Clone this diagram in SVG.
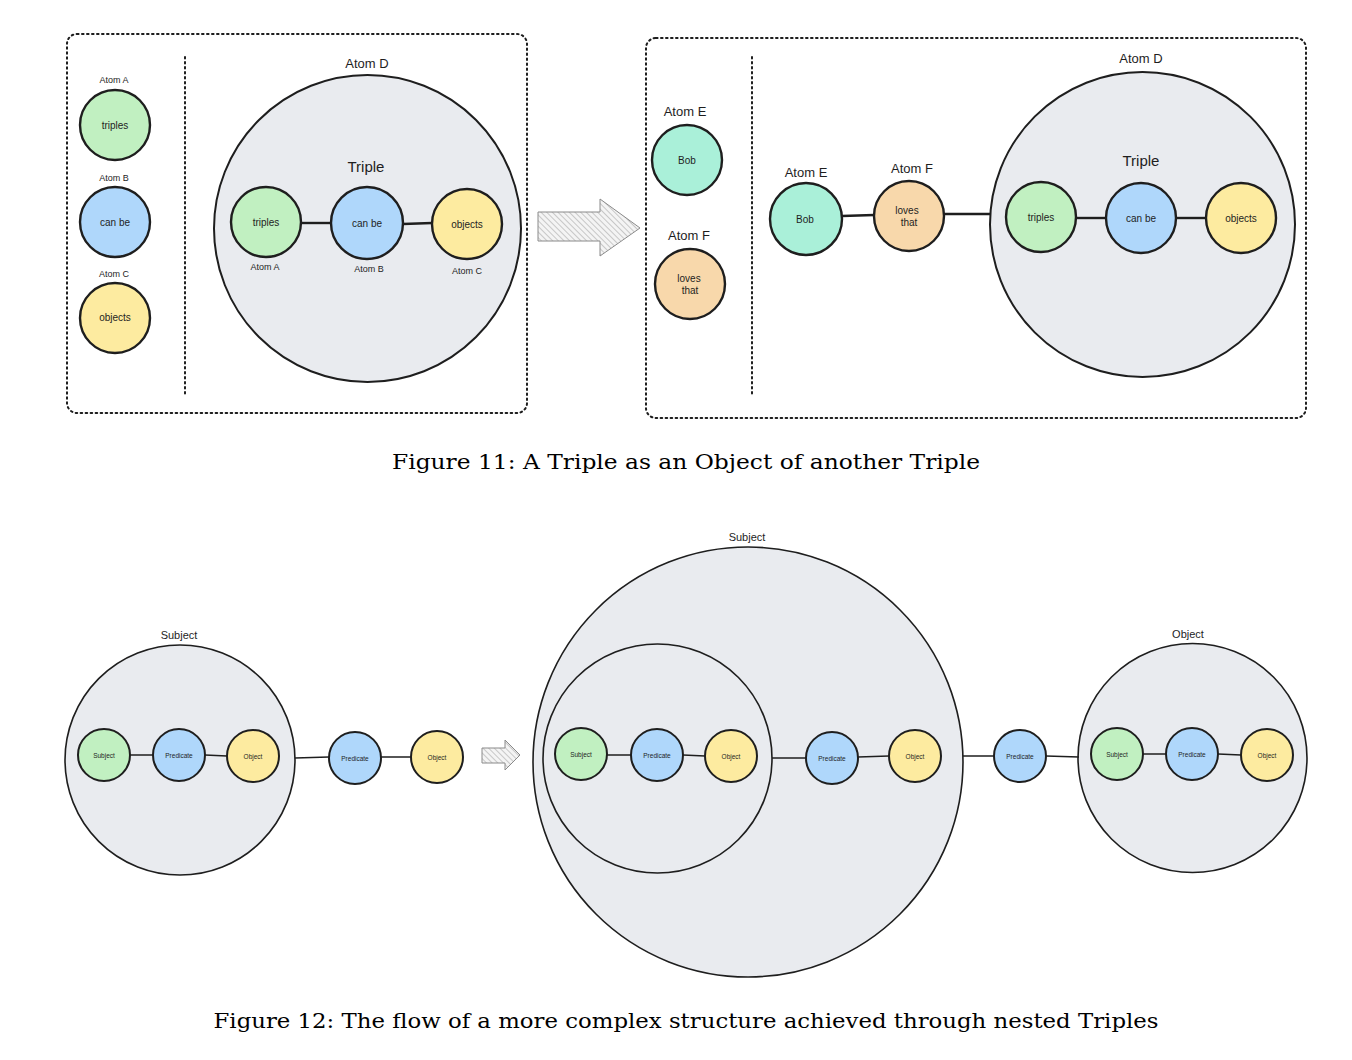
<svg xmlns="http://www.w3.org/2000/svg" width="1352" height="1060" viewBox="0 0 1352 1060">
<defs>
<pattern id="hatch" patternUnits="userSpaceOnUse" width="4" height="4" patternTransform="rotate(-45)">
<rect width="4" height="4" fill="#f4f4f4"/>
<line x1="0" y1="0" x2="0" y2="4" stroke="#9a9a9a" stroke-width="1"/>
</pattern>
</defs>
<style>
text{font-family:"Liberation Sans","DejaVu Sans",sans-serif;fill:#1e1e1e;text-anchor:middle;dominant-baseline:central}
.panel{fill:none;stroke:#1e1e1e;stroke-width:2;stroke-dasharray:1.6 3.4;stroke-linecap:round}
.big{fill:#e9ebef;stroke:#1e1e1e;stroke-width:2}
.big2{fill:#e9ebef;stroke:#1e1e1e;stroke-width:1.6}
.nb{stroke:#1e1e1e;stroke-width:2.4}
.ns{stroke:#1e1e1e;stroke-width:2}
.g{fill:#c1f0c1}.b{fill:#afd7fb}.y{fill:#fdeba0}.t{fill:#aaf0d9}.p{fill:#f8d8ab}
.ln{stroke:#1e1e1e;stroke-width:2.4;fill:none}
.ln2{stroke:#1e1e1e;stroke-width:1.5;fill:none}
.arrow{fill:url(#hatch);stroke:#8a8a8a;stroke-width:1}
.cap{font-family:"DejaVu Serif","Liberation Serif",serif;font-size:21px;fill:#000}
.s9{font-size:9px}.s10{font-size:10px}.s11{font-size:11px}.s13{font-size:13px}.s15{font-size:15px}.s7{font-size:6.5px}
</style>

<g id="fig11-left-panel">
<rect class="panel" x="67" y="34" width="460" height="379" rx="10"/>
<line class="panel" x1="185" y1="57" x2="185" y2="395"/>
</g>
<g id="atomD-left">
<text class="s13" x="367" y="63">Atom D</text>
<circle class="big" cx="367.5" cy="228.5" r="153.5"/>
<text class="s15" x="366" y="166">Triple</text>
</g>
<g id="fig11-right-panel">
<rect class="panel" x="646" y="38" width="660" height="380" rx="10"/>
<line class="panel" x1="752" y1="57" x2="752" y2="395"/>
</g>
<g id="atomD-right">
<text class="s13" x="1141" y="58">Atom D</text>
<circle class="big" cx="1142.5" cy="224.5" r="152.5"/>
<text class="s15" x="1141" y="160">Triple</text>
</g>
<g id="f12-subject">
<text class="s11" x="179" y="635">Subject</text>
<circle class="big2" cx="180" cy="760" r="115"/>
</g>
<g id="f12-subject-big">
<text class="s11" x="747" y="537">Subject</text>
<circle class="big2" cx="748" cy="762" r="215"/>
</g>
<g id="f12-inner">
<circle class="big2" cx="657.5" cy="758.5" r="114.5"/>
</g>
<g id="f12-object">
<text class="s11" x="1188" y="634">Object</text>
<circle class="big2" cx="1192.5" cy="758" r="114.5"/>
</g>

<g id="connectors">
<line class="ln" x1="301" y1="223" x2="331" y2="223"/>
<line class="ln" x1="403" y1="224" x2="432" y2="223"/>
<line class="ln" x1="842" y1="216" x2="874" y2="215"/>
<line class="ln" x1="944" y1="214" x2="990" y2="214"/>
<line class="ln" x1="1076" y1="218" x2="1106" y2="218"/>
<line class="ln" x1="1176" y1="218" x2="1206" y2="218"/>
<line class="ln2" x1="130" y1="755" x2="153" y2="755"/>
<line class="ln2" x1="205" y1="755" x2="227" y2="756"/>
<line class="ln2" x1="295" y1="758" x2="329" y2="757"/>
<line class="ln2" x1="381" y1="757" x2="411" y2="757"/>
<line class="ln2" x1="607" y1="755" x2="631" y2="755"/>
<line class="ln2" x1="683" y1="755" x2="705" y2="756"/>
<line class="ln2" x1="772" y1="758" x2="806" y2="758"/>
<line class="ln2" x1="858" y1="757" x2="889" y2="756"/>
<line class="ln2" x1="963" y1="756" x2="994" y2="756"/>
<line class="ln2" x1="1046" y1="756" x2="1079" y2="757"/>
<line class="ln2" x1="1143" y1="754" x2="1166" y2="754"/>
<line class="ln2" x1="1218" y1="754" x2="1241" y2="755"/>
</g>

<g id="atomA"><text class="s9" x="114" y="80">Atom A</text><circle class="nb g" cx="115" cy="125" r="35"/><text class="s10" x="115" y="125">triples</text></g>
<g id="atomB"><text class="s9" x="114" y="178">Atom B</text><circle class="nb b" cx="115" cy="222" r="35"/><text class="s10" x="115" y="222">can be</text></g>
<g id="atomC"><text class="s9" x="114" y="274">Atom C</text><circle class="nb y" cx="115" cy="318" r="35"/><text class="s10" x="115" y="317">objects</text></g>
<g id="tripleA-in"><circle class="nb g" cx="266" cy="222" r="35"/><text class="s10" x="266" y="222">triples</text><text class="s9" x="265" y="267">Atom A</text></g>
<g id="tripleB-in"><circle class="nb b" cx="367" cy="223" r="36"/><text class="s10" x="367" y="223">can be</text><text class="s9" x="369" y="269">Atom B</text></g>
<g id="tripleC-in"><circle class="nb y" cx="467" cy="224" r="35"/><text class="s10" x="467" y="224">objects</text><text class="s9" x="467" y="271">Atom C</text></g>

<g id="arrow-top">
<path class="arrow" d="M538,212 L600,212 L600,199 L640,228 L600,256 L600,241 L538,241 Z"/>
</g>

<g id="atomE"><text class="s13" x="685" y="111">Atom E</text><circle class="nb t" cx="687" cy="160" r="35"/><text class="s10" x="687" y="160">Bob</text></g>
<g id="atomF"><text class="s13" x="689" y="235">Atom F</text><circle class="nb p" cx="690" cy="284" r="35"/><text class="s10" x="689" y="278">loves</text><text class="s10" x="690" y="290">that</text></g>
<g id="atomE-in"><text class="s13" x="806" y="172">Atom E</text><circle class="nb t" cx="806" cy="219" r="36"/><text class="s10" x="805" y="219">Bob</text></g>
<g id="atomF-in"><text class="s13" x="912" y="168">Atom F</text><circle class="nb p" cx="909" cy="216" r="35"/><text class="s10" x="907" y="210">loves</text><text class="s10" x="909" y="222">that</text></g>
<g id="r-triples"><circle class="nb g" cx="1041" cy="217" r="35"/><text class="s10" x="1041" y="217">triples</text></g>
<g id="r-canbe"><circle class="nb b" cx="1141" cy="218" r="35"/><text class="s10" x="1141" y="218">can be</text></g>
<g id="r-objects"><circle class="nb y" cx="1241" cy="218" r="35"/><text class="s10" x="1241" y="218">objects</text></g>

<text class="cap" x="686" y="462" textLength="588" lengthAdjust="spacingAndGlyphs">Figure 11:  A Triple as an Object of another Triple</text>

<g id="f12-s1"><circle class="ns g" cx="104" cy="755" r="26"/><text class="s7" x="104" y="755">Subject</text></g>
<g id="f12-p1"><circle class="ns b" cx="179" cy="755" r="26"/><text class="s7" x="179" y="755">Predicate</text></g>
<g id="f12-o1"><circle class="ns y" cx="253" cy="756" r="26"/><text class="s7" x="253" y="756">Object</text></g>
<g id="f12-p2"><circle class="ns b" cx="355" cy="758" r="26"/><text class="s7" x="355" y="758">Predicate</text></g>
<g id="f12-o2"><circle class="ns y" cx="437" cy="757" r="26"/><text class="s7" x="437" y="757">Object</text></g>

<g id="arrow-bottom">
<path class="arrow" d="M482,748 L505,748 L505,740 L520,755 L505,770 L505,763 L482,763 Z"/>
</g>

<g id="f12-s3"><circle class="ns g" cx="581" cy="754" r="26"/><text class="s7" x="581" y="754">Subject</text></g>
<g id="f12-p3"><circle class="ns b" cx="657" cy="755" r="26"/><text class="s7" x="657" y="755">Predicate</text></g>
<g id="f12-o3"><circle class="ns y" cx="731" cy="756" r="26"/><text class="s7" x="731" y="756">Object</text></g>
<g id="f12-p4"><circle class="ns b" cx="832" cy="758" r="26"/><text class="s7" x="832" y="758">Predicate</text></g>
<g id="f12-o4"><circle class="ns y" cx="915" cy="756" r="26"/><text class="s7" x="915" y="756">Object</text></g>
<g id="f12-p5"><circle class="ns b" cx="1020" cy="756" r="26"/><text class="s7" x="1020" y="756">Predicate</text></g>

<g id="f12-s6"><circle class="ns g" cx="1117" cy="754" r="26"/><text class="s7" x="1117" y="754">Subject</text></g>
<g id="f12-p6"><circle class="ns b" cx="1192" cy="754" r="26"/><text class="s7" x="1192" y="754">Predicate</text></g>
<g id="f12-o6"><circle class="ns y" cx="1267" cy="755" r="26"/><text class="s7" x="1267" y="755">Object</text></g>

<text class="cap" x="686" y="1021" textLength="945" lengthAdjust="spacingAndGlyphs">Figure 12:  The flow of a more complex structure achieved through nested Triples</text>
</svg>
